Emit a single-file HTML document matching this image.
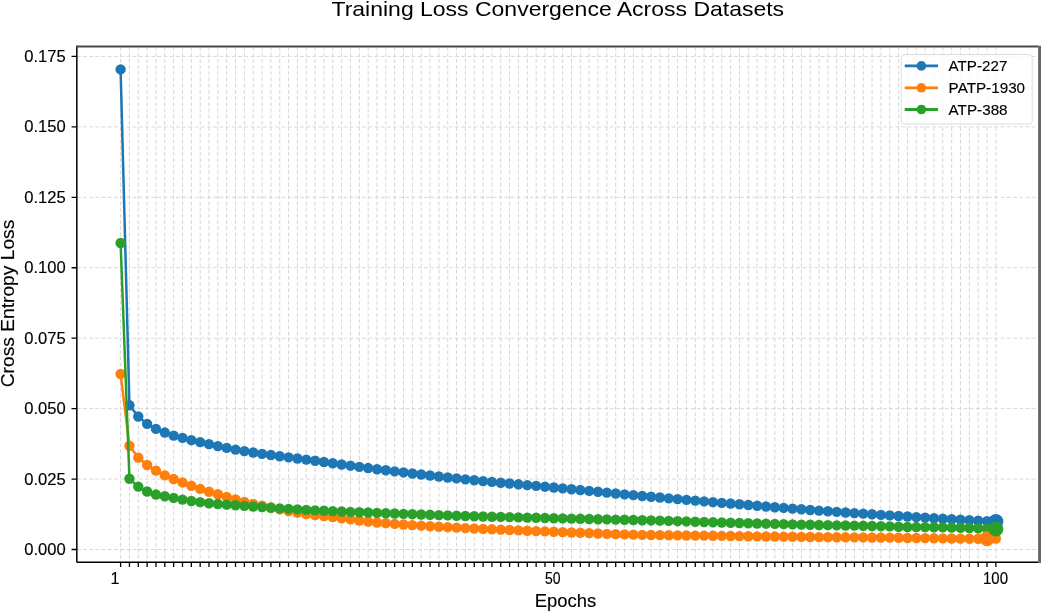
<!DOCTYPE html><html><head><meta charset="utf-8"><title>Training Loss Convergence</title><style>html,body{margin:0;padding:0;background:#fff;width:1041px;height:611px;overflow:hidden}svg{display:block}text{font-family:"Liberation Sans",sans-serif;fill:#000;stroke:#000;stroke-width:0.15px}</style></head><body>
<svg width="1041" height="611" viewBox="0 0 1041 611">
<defs><filter id="bl" x="0" y="0" width="1041" height="611" filterUnits="userSpaceOnUse"><feGaussianBlur stdDeviation="0.55"/></filter></defs><g filter="url(#bl)">
<rect x="0" y="0" width="1041" height="611" fill="#fff"/>
<path d="M120.60 46.5V562.3M129.44 46.5V562.3M138.28 46.5V562.3M147.12 46.5V562.3M155.96 46.5V562.3M164.81 46.5V562.3M173.65 46.5V562.3M182.49 46.5V562.3M191.33 46.5V562.3M200.17 46.5V562.3M209.01 46.5V562.3M217.85 46.5V562.3M226.69 46.5V562.3M235.53 46.5V562.3M244.37 46.5V562.3M253.21 46.5V562.3M262.06 46.5V562.3M270.90 46.5V562.3M279.74 46.5V562.3M288.58 46.5V562.3M297.42 46.5V562.3M306.26 46.5V562.3M315.10 46.5V562.3M323.94 46.5V562.3M332.78 46.5V562.3M341.62 46.5V562.3M350.47 46.5V562.3M359.31 46.5V562.3M368.15 46.5V562.3M376.99 46.5V562.3M385.83 46.5V562.3M394.67 46.5V562.3M403.51 46.5V562.3M412.35 46.5V562.3M421.19 46.5V562.3M430.03 46.5V562.3M438.88 46.5V562.3M447.72 46.5V562.3M456.56 46.5V562.3M465.40 46.5V562.3M474.24 46.5V562.3M483.08 46.5V562.3M491.92 46.5V562.3M500.76 46.5V562.3M509.60 46.5V562.3M518.44 46.5V562.3M527.29 46.5V562.3M536.13 46.5V562.3M544.97 46.5V562.3M553.81 46.5V562.3M562.65 46.5V562.3M571.49 46.5V562.3M580.33 46.5V562.3M589.17 46.5V562.3M598.01 46.5V562.3M606.85 46.5V562.3M615.70 46.5V562.3M624.54 46.5V562.3M633.38 46.5V562.3M642.22 46.5V562.3M651.06 46.5V562.3M659.90 46.5V562.3M668.74 46.5V562.3M677.58 46.5V562.3M686.42 46.5V562.3M695.26 46.5V562.3M704.11 46.5V562.3M712.95 46.5V562.3M721.79 46.5V562.3M730.63 46.5V562.3M739.47 46.5V562.3M748.31 46.5V562.3M757.15 46.5V562.3M765.99 46.5V562.3M774.83 46.5V562.3M783.67 46.5V562.3M792.52 46.5V562.3M801.36 46.5V562.3M810.20 46.5V562.3M819.04 46.5V562.3M827.88 46.5V562.3M836.72 46.5V562.3M845.56 46.5V562.3M854.40 46.5V562.3M863.24 46.5V562.3M872.08 46.5V562.3M880.93 46.5V562.3M889.77 46.5V562.3M898.61 46.5V562.3M907.45 46.5V562.3M916.29 46.5V562.3M925.13 46.5V562.3M933.97 46.5V562.3M942.81 46.5V562.3M951.65 46.5V562.3M960.50 46.5V562.3M969.34 46.5V562.3M978.18 46.5V562.3M987.02 46.5V562.3M995.86 46.5V562.3" stroke="#d0d0d0" stroke-width="0.9" stroke-dasharray="3.9 2.3" fill="none"/>
<path d="M76.84 549.50H1039.66M76.84 479.06H1039.66M76.84 408.62H1039.66M76.84 338.18H1039.66M76.84 267.74H1039.66M76.84 197.30H1039.66M76.84 126.86H1039.66M76.84 56.42H1039.66" stroke="#d4d4d4" stroke-width="0.9" stroke-dasharray="3.9 2.3" fill="none"/>
<polyline points="120.60,69.38 129.44,405.24 138.28,416.51 147.12,423.84 155.96,428.91 164.81,432.57 173.65,435.67 182.49,437.92 191.33,440.18 200.17,442.15 209.01,444.16 217.85,446.09 226.69,447.90 235.53,449.61 244.37,451.17 253.21,452.55 262.06,453.83 270.90,455.03 279.74,456.20 288.58,457.36 297.42,458.50 306.26,459.62 315.10,460.79 323.94,462.00 332.78,463.23 341.62,464.46 350.47,465.69 359.31,466.89 368.15,468.07 376.99,469.20 385.83,470.29 394.67,471.37 403.51,472.44 412.35,473.49 421.19,474.52 430.03,475.53 438.88,476.51 447.72,477.48 456.56,478.42 465.40,479.34 474.24,480.23 483.08,481.08 491.92,481.91 500.76,482.72 509.60,483.52 518.44,484.31 527.29,485.10 536.13,485.89 544.97,486.69 553.81,487.51 562.65,488.35 571.49,489.20 580.33,490.06 589.17,490.92 598.01,491.78 606.85,492.63 615.70,493.49 624.54,494.33 633.38,495.16 642.22,495.97 651.06,496.76 659.90,497.55 668.74,498.33 677.58,499.09 686.42,499.86 695.26,500.61 704.11,501.36 712.95,502.10 721.79,502.84 730.63,503.57 739.47,504.30 748.31,505.04 757.15,505.76 765.99,506.49 774.83,507.20 783.67,507.91 792.52,508.61 801.36,509.29 810.20,509.96 819.04,510.62 827.88,511.25 836.72,511.88 845.56,512.48 854.40,513.08 863.24,513.67 872.08,514.25 880.93,514.83 889.77,515.41 898.61,515.97 907.45,516.53 916.29,517.11 925.13,517.68 933.97,518.22 942.81,518.75 951.65,519.26 960.50,519.76 969.34,520.24 978.18,520.71 987.02,521.17 995.86,521.61" fill="none" stroke="#1f77b4" stroke-width="2.5" stroke-linejoin="round"/>
<g fill="#1f77b4"><circle cx="120.60" cy="69.38" r="5.2"/><circle cx="129.44" cy="405.24" r="5.2"/><circle cx="138.28" cy="416.51" r="5.2"/><circle cx="147.12" cy="423.84" r="5.2"/><circle cx="155.96" cy="428.91" r="5.2"/><circle cx="164.81" cy="432.57" r="5.2"/><circle cx="173.65" cy="435.67" r="5.2"/><circle cx="182.49" cy="437.92" r="5.2"/><circle cx="191.33" cy="440.18" r="5.2"/><circle cx="200.17" cy="442.15" r="5.2"/><circle cx="209.01" cy="444.16" r="5.2"/><circle cx="217.85" cy="446.09" r="5.2"/><circle cx="226.69" cy="447.90" r="5.2"/><circle cx="235.53" cy="449.61" r="5.2"/><circle cx="244.37" cy="451.17" r="5.2"/><circle cx="253.21" cy="452.55" r="5.2"/><circle cx="262.06" cy="453.83" r="5.2"/><circle cx="270.90" cy="455.03" r="5.2"/><circle cx="279.74" cy="456.20" r="5.2"/><circle cx="288.58" cy="457.36" r="5.2"/><circle cx="297.42" cy="458.50" r="5.2"/><circle cx="306.26" cy="459.62" r="5.2"/><circle cx="315.10" cy="460.79" r="5.2"/><circle cx="323.94" cy="462.00" r="5.2"/><circle cx="332.78" cy="463.23" r="5.2"/><circle cx="341.62" cy="464.46" r="5.2"/><circle cx="350.47" cy="465.69" r="5.2"/><circle cx="359.31" cy="466.89" r="5.2"/><circle cx="368.15" cy="468.07" r="5.2"/><circle cx="376.99" cy="469.20" r="5.2"/><circle cx="385.83" cy="470.29" r="5.2"/><circle cx="394.67" cy="471.37" r="5.2"/><circle cx="403.51" cy="472.44" r="5.2"/><circle cx="412.35" cy="473.49" r="5.2"/><circle cx="421.19" cy="474.52" r="5.2"/><circle cx="430.03" cy="475.53" r="5.2"/><circle cx="438.88" cy="476.51" r="5.2"/><circle cx="447.72" cy="477.48" r="5.2"/><circle cx="456.56" cy="478.42" r="5.2"/><circle cx="465.40" cy="479.34" r="5.2"/><circle cx="474.24" cy="480.23" r="5.2"/><circle cx="483.08" cy="481.08" r="5.2"/><circle cx="491.92" cy="481.91" r="5.2"/><circle cx="500.76" cy="482.72" r="5.2"/><circle cx="509.60" cy="483.52" r="5.2"/><circle cx="518.44" cy="484.31" r="5.2"/><circle cx="527.29" cy="485.10" r="5.2"/><circle cx="536.13" cy="485.89" r="5.2"/><circle cx="544.97" cy="486.69" r="5.2"/><circle cx="553.81" cy="487.51" r="5.2"/><circle cx="562.65" cy="488.35" r="5.2"/><circle cx="571.49" cy="489.20" r="5.2"/><circle cx="580.33" cy="490.06" r="5.2"/><circle cx="589.17" cy="490.92" r="5.2"/><circle cx="598.01" cy="491.78" r="5.2"/><circle cx="606.85" cy="492.63" r="5.2"/><circle cx="615.70" cy="493.49" r="5.2"/><circle cx="624.54" cy="494.33" r="5.2"/><circle cx="633.38" cy="495.16" r="5.2"/><circle cx="642.22" cy="495.97" r="5.2"/><circle cx="651.06" cy="496.76" r="5.2"/><circle cx="659.90" cy="497.55" r="5.2"/><circle cx="668.74" cy="498.33" r="5.2"/><circle cx="677.58" cy="499.09" r="5.2"/><circle cx="686.42" cy="499.86" r="5.2"/><circle cx="695.26" cy="500.61" r="5.2"/><circle cx="704.11" cy="501.36" r="5.2"/><circle cx="712.95" cy="502.10" r="5.2"/><circle cx="721.79" cy="502.84" r="5.2"/><circle cx="730.63" cy="503.57" r="5.2"/><circle cx="739.47" cy="504.30" r="5.2"/><circle cx="748.31" cy="505.04" r="5.2"/><circle cx="757.15" cy="505.76" r="5.2"/><circle cx="765.99" cy="506.49" r="5.2"/><circle cx="774.83" cy="507.20" r="5.2"/><circle cx="783.67" cy="507.91" r="5.2"/><circle cx="792.52" cy="508.61" r="5.2"/><circle cx="801.36" cy="509.29" r="5.2"/><circle cx="810.20" cy="509.96" r="5.2"/><circle cx="819.04" cy="510.62" r="5.2"/><circle cx="827.88" cy="511.25" r="5.2"/><circle cx="836.72" cy="511.88" r="5.2"/><circle cx="845.56" cy="512.48" r="5.2"/><circle cx="854.40" cy="513.08" r="5.2"/><circle cx="863.24" cy="513.67" r="5.2"/><circle cx="872.08" cy="514.25" r="5.2"/><circle cx="880.93" cy="514.83" r="5.2"/><circle cx="889.77" cy="515.41" r="5.2"/><circle cx="898.61" cy="515.97" r="5.2"/><circle cx="907.45" cy="516.53" r="5.2"/><circle cx="916.29" cy="517.11" r="5.2"/><circle cx="925.13" cy="517.68" r="5.2"/><circle cx="933.97" cy="518.22" r="5.2"/><circle cx="942.81" cy="518.75" r="5.2"/><circle cx="951.65" cy="519.26" r="5.2"/><circle cx="960.50" cy="519.76" r="5.2"/><circle cx="969.34" cy="520.24" r="5.2"/><circle cx="978.18" cy="520.71" r="5.2"/><circle cx="987.02" cy="521.17" r="5.2"/><circle cx="995.86" cy="521.61" r="5.2"/></g>
<polyline points="120.60,373.96 129.44,445.81 138.28,457.65 147.12,464.97 155.96,470.61 164.81,475.40 173.65,479.06 182.49,482.44 191.33,485.82 200.17,488.92 209.01,491.74 217.85,494.28 226.69,496.89 235.53,499.51 244.37,501.88 253.21,503.89 262.06,505.71 270.90,507.52 279.74,509.41 288.58,511.18 297.42,512.69 306.26,514.00 315.10,515.10 323.94,516.10 332.78,517.10 341.62,518.20 350.47,519.37 359.31,520.52 368.15,521.57 376.99,522.45 385.83,523.19 394.67,523.87 403.51,524.51 412.35,525.11 421.19,525.67 430.03,526.20 438.88,526.70 447.72,527.18 456.56,527.64 465.40,528.09 474.24,528.52 483.08,528.93 491.92,529.32 500.76,529.69 509.60,530.05 518.44,530.40 527.29,530.74 536.13,531.08 544.97,531.41 553.81,531.75 562.65,532.09 571.49,532.45 580.33,532.81 589.17,533.16 598.01,533.51 606.85,533.84 615.70,534.15 624.54,534.42 633.38,534.66 642.22,534.85 651.06,535.00 659.90,535.14 668.74,535.26 677.58,535.38 686.42,535.48 695.26,535.58 704.11,535.67 712.95,535.77 721.79,535.87 730.63,535.98 739.47,536.09 748.31,536.21 757.15,536.33 765.99,536.45 774.83,536.57 783.67,536.69 792.52,536.80 801.36,536.91 810.20,537.01 819.04,537.10 827.88,537.18 836.72,537.25 845.56,537.31 854.40,537.37 863.24,537.43 872.08,537.50 880.93,537.57 889.77,537.67 898.61,537.80 907.45,537.95 916.29,538.05 925.13,538.14 933.97,538.23 942.81,538.34 951.65,538.46 960.50,538.58 969.34,538.69 978.18,538.76 987.02,538.79 995.86,538.51" fill="none" stroke="#ff7f0e" stroke-width="2.5" stroke-linejoin="round"/>
<g fill="#ff7f0e"><circle cx="120.60" cy="373.96" r="5.2"/><circle cx="129.44" cy="445.81" r="5.2"/><circle cx="138.28" cy="457.65" r="5.2"/><circle cx="147.12" cy="464.97" r="5.2"/><circle cx="155.96" cy="470.61" r="5.2"/><circle cx="164.81" cy="475.40" r="5.2"/><circle cx="173.65" cy="479.06" r="5.2"/><circle cx="182.49" cy="482.44" r="5.2"/><circle cx="191.33" cy="485.82" r="5.2"/><circle cx="200.17" cy="488.92" r="5.2"/><circle cx="209.01" cy="491.74" r="5.2"/><circle cx="217.85" cy="494.28" r="5.2"/><circle cx="226.69" cy="496.89" r="5.2"/><circle cx="235.53" cy="499.51" r="5.2"/><circle cx="244.37" cy="501.88" r="5.2"/><circle cx="253.21" cy="503.89" r="5.2"/><circle cx="262.06" cy="505.71" r="5.2"/><circle cx="270.90" cy="507.52" r="5.2"/><circle cx="279.74" cy="509.41" r="5.2"/><circle cx="288.58" cy="511.18" r="5.2"/><circle cx="297.42" cy="512.69" r="5.2"/><circle cx="306.26" cy="514.00" r="5.2"/><circle cx="315.10" cy="515.10" r="5.2"/><circle cx="323.94" cy="516.10" r="5.2"/><circle cx="332.78" cy="517.10" r="5.2"/><circle cx="341.62" cy="518.20" r="5.2"/><circle cx="350.47" cy="519.37" r="5.2"/><circle cx="359.31" cy="520.52" r="5.2"/><circle cx="368.15" cy="521.57" r="5.2"/><circle cx="376.99" cy="522.45" r="5.2"/><circle cx="385.83" cy="523.19" r="5.2"/><circle cx="394.67" cy="523.87" r="5.2"/><circle cx="403.51" cy="524.51" r="5.2"/><circle cx="412.35" cy="525.11" r="5.2"/><circle cx="421.19" cy="525.67" r="5.2"/><circle cx="430.03" cy="526.20" r="5.2"/><circle cx="438.88" cy="526.70" r="5.2"/><circle cx="447.72" cy="527.18" r="5.2"/><circle cx="456.56" cy="527.64" r="5.2"/><circle cx="465.40" cy="528.09" r="5.2"/><circle cx="474.24" cy="528.52" r="5.2"/><circle cx="483.08" cy="528.93" r="5.2"/><circle cx="491.92" cy="529.32" r="5.2"/><circle cx="500.76" cy="529.69" r="5.2"/><circle cx="509.60" cy="530.05" r="5.2"/><circle cx="518.44" cy="530.40" r="5.2"/><circle cx="527.29" cy="530.74" r="5.2"/><circle cx="536.13" cy="531.08" r="5.2"/><circle cx="544.97" cy="531.41" r="5.2"/><circle cx="553.81" cy="531.75" r="5.2"/><circle cx="562.65" cy="532.09" r="5.2"/><circle cx="571.49" cy="532.45" r="5.2"/><circle cx="580.33" cy="532.81" r="5.2"/><circle cx="589.17" cy="533.16" r="5.2"/><circle cx="598.01" cy="533.51" r="5.2"/><circle cx="606.85" cy="533.84" r="5.2"/><circle cx="615.70" cy="534.15" r="5.2"/><circle cx="624.54" cy="534.42" r="5.2"/><circle cx="633.38" cy="534.66" r="5.2"/><circle cx="642.22" cy="534.85" r="5.2"/><circle cx="651.06" cy="535.00" r="5.2"/><circle cx="659.90" cy="535.14" r="5.2"/><circle cx="668.74" cy="535.26" r="5.2"/><circle cx="677.58" cy="535.38" r="5.2"/><circle cx="686.42" cy="535.48" r="5.2"/><circle cx="695.26" cy="535.58" r="5.2"/><circle cx="704.11" cy="535.67" r="5.2"/><circle cx="712.95" cy="535.77" r="5.2"/><circle cx="721.79" cy="535.87" r="5.2"/><circle cx="730.63" cy="535.98" r="5.2"/><circle cx="739.47" cy="536.09" r="5.2"/><circle cx="748.31" cy="536.21" r="5.2"/><circle cx="757.15" cy="536.33" r="5.2"/><circle cx="765.99" cy="536.45" r="5.2"/><circle cx="774.83" cy="536.57" r="5.2"/><circle cx="783.67" cy="536.69" r="5.2"/><circle cx="792.52" cy="536.80" r="5.2"/><circle cx="801.36" cy="536.91" r="5.2"/><circle cx="810.20" cy="537.01" r="5.2"/><circle cx="819.04" cy="537.10" r="5.2"/><circle cx="827.88" cy="537.18" r="5.2"/><circle cx="836.72" cy="537.25" r="5.2"/><circle cx="845.56" cy="537.31" r="5.2"/><circle cx="854.40" cy="537.37" r="5.2"/><circle cx="863.24" cy="537.43" r="5.2"/><circle cx="872.08" cy="537.50" r="5.2"/><circle cx="880.93" cy="537.57" r="5.2"/><circle cx="889.77" cy="537.67" r="5.2"/><circle cx="898.61" cy="537.80" r="5.2"/><circle cx="907.45" cy="537.95" r="5.2"/><circle cx="916.29" cy="538.05" r="5.2"/><circle cx="925.13" cy="538.14" r="5.2"/><circle cx="933.97" cy="538.23" r="5.2"/><circle cx="942.81" cy="538.34" r="5.2"/><circle cx="951.65" cy="538.46" r="5.2"/><circle cx="960.50" cy="538.58" r="5.2"/><circle cx="969.34" cy="538.69" r="5.2"/><circle cx="978.18" cy="538.76" r="5.2"/><circle cx="987.02" cy="538.79" r="5.2"/><circle cx="995.86" cy="538.51" r="5.2"/></g>
<polyline points="120.60,242.95 129.44,478.78 138.28,486.67 147.12,491.46 155.96,494.56 164.81,496.25 173.65,497.94 182.49,499.63 191.33,501.04 200.17,502.16 209.01,503.29 217.85,504.05 226.69,504.68 235.53,505.24 244.37,505.83 253.21,506.47 262.06,507.12 270.90,507.76 279.74,508.37 288.58,508.93 297.42,509.43 306.26,509.91 315.10,510.36 323.94,510.78 332.78,511.18 341.62,511.55 350.47,511.90 359.31,512.23 368.15,512.55 376.99,512.87 385.83,513.20 394.67,513.53 403.51,513.85 412.35,514.18 421.19,514.50 430.03,514.82 438.88,515.12 447.72,515.42 456.56,515.70 465.40,515.97 474.24,516.23 483.08,516.47 491.92,516.71 500.76,516.94 509.60,517.16 518.44,517.38 527.29,517.59 536.13,517.80 544.97,518.01 553.81,518.22 562.65,518.43 571.49,518.63 580.33,518.82 589.17,519.01 598.01,519.20 606.85,519.39 615.70,519.58 624.54,519.78 633.38,519.98 642.22,520.20 651.06,520.43 659.90,520.67 668.74,520.92 677.58,521.18 686.42,521.44 695.26,521.71 704.11,521.97 712.95,522.23 721.79,522.49 730.63,522.73 739.47,522.97 748.31,523.21 757.15,523.45 765.99,523.68 774.83,523.91 783.67,524.14 792.52,524.36 801.36,524.58 810.20,524.79 819.04,524.99 827.88,525.17 836.72,525.34 845.56,525.50 854.40,525.66 863.24,525.82 872.08,525.99 880.93,526.18 889.77,526.40 898.61,526.70 907.45,526.96 916.29,527.07 925.13,527.14 933.97,527.24 942.81,527.39 951.65,527.57 960.50,527.78 969.34,528.02 978.18,528.30 987.02,528.60 995.86,528.93" fill="none" stroke="#2ca02c" stroke-width="2.5" stroke-linejoin="round"/>
<g fill="#2ca02c"><circle cx="120.60" cy="242.95" r="5.2"/><circle cx="129.44" cy="478.78" r="5.2"/><circle cx="138.28" cy="486.67" r="5.2"/><circle cx="147.12" cy="491.46" r="5.2"/><circle cx="155.96" cy="494.56" r="5.2"/><circle cx="164.81" cy="496.25" r="5.2"/><circle cx="173.65" cy="497.94" r="5.2"/><circle cx="182.49" cy="499.63" r="5.2"/><circle cx="191.33" cy="501.04" r="5.2"/><circle cx="200.17" cy="502.16" r="5.2"/><circle cx="209.01" cy="503.29" r="5.2"/><circle cx="217.85" cy="504.05" r="5.2"/><circle cx="226.69" cy="504.68" r="5.2"/><circle cx="235.53" cy="505.24" r="5.2"/><circle cx="244.37" cy="505.83" r="5.2"/><circle cx="253.21" cy="506.47" r="5.2"/><circle cx="262.06" cy="507.12" r="5.2"/><circle cx="270.90" cy="507.76" r="5.2"/><circle cx="279.74" cy="508.37" r="5.2"/><circle cx="288.58" cy="508.93" r="5.2"/><circle cx="297.42" cy="509.43" r="5.2"/><circle cx="306.26" cy="509.91" r="5.2"/><circle cx="315.10" cy="510.36" r="5.2"/><circle cx="323.94" cy="510.78" r="5.2"/><circle cx="332.78" cy="511.18" r="5.2"/><circle cx="341.62" cy="511.55" r="5.2"/><circle cx="350.47" cy="511.90" r="5.2"/><circle cx="359.31" cy="512.23" r="5.2"/><circle cx="368.15" cy="512.55" r="5.2"/><circle cx="376.99" cy="512.87" r="5.2"/><circle cx="385.83" cy="513.20" r="5.2"/><circle cx="394.67" cy="513.53" r="5.2"/><circle cx="403.51" cy="513.85" r="5.2"/><circle cx="412.35" cy="514.18" r="5.2"/><circle cx="421.19" cy="514.50" r="5.2"/><circle cx="430.03" cy="514.82" r="5.2"/><circle cx="438.88" cy="515.12" r="5.2"/><circle cx="447.72" cy="515.42" r="5.2"/><circle cx="456.56" cy="515.70" r="5.2"/><circle cx="465.40" cy="515.97" r="5.2"/><circle cx="474.24" cy="516.23" r="5.2"/><circle cx="483.08" cy="516.47" r="5.2"/><circle cx="491.92" cy="516.71" r="5.2"/><circle cx="500.76" cy="516.94" r="5.2"/><circle cx="509.60" cy="517.16" r="5.2"/><circle cx="518.44" cy="517.38" r="5.2"/><circle cx="527.29" cy="517.59" r="5.2"/><circle cx="536.13" cy="517.80" r="5.2"/><circle cx="544.97" cy="518.01" r="5.2"/><circle cx="553.81" cy="518.22" r="5.2"/><circle cx="562.65" cy="518.43" r="5.2"/><circle cx="571.49" cy="518.63" r="5.2"/><circle cx="580.33" cy="518.82" r="5.2"/><circle cx="589.17" cy="519.01" r="5.2"/><circle cx="598.01" cy="519.20" r="5.2"/><circle cx="606.85" cy="519.39" r="5.2"/><circle cx="615.70" cy="519.58" r="5.2"/><circle cx="624.54" cy="519.78" r="5.2"/><circle cx="633.38" cy="519.98" r="5.2"/><circle cx="642.22" cy="520.20" r="5.2"/><circle cx="651.06" cy="520.43" r="5.2"/><circle cx="659.90" cy="520.67" r="5.2"/><circle cx="668.74" cy="520.92" r="5.2"/><circle cx="677.58" cy="521.18" r="5.2"/><circle cx="686.42" cy="521.44" r="5.2"/><circle cx="695.26" cy="521.71" r="5.2"/><circle cx="704.11" cy="521.97" r="5.2"/><circle cx="712.95" cy="522.23" r="5.2"/><circle cx="721.79" cy="522.49" r="5.2"/><circle cx="730.63" cy="522.73" r="5.2"/><circle cx="739.47" cy="522.97" r="5.2"/><circle cx="748.31" cy="523.21" r="5.2"/><circle cx="757.15" cy="523.45" r="5.2"/><circle cx="765.99" cy="523.68" r="5.2"/><circle cx="774.83" cy="523.91" r="5.2"/><circle cx="783.67" cy="524.14" r="5.2"/><circle cx="792.52" cy="524.36" r="5.2"/><circle cx="801.36" cy="524.58" r="5.2"/><circle cx="810.20" cy="524.79" r="5.2"/><circle cx="819.04" cy="524.99" r="5.2"/><circle cx="827.88" cy="525.17" r="5.2"/><circle cx="836.72" cy="525.34" r="5.2"/><circle cx="845.56" cy="525.50" r="5.2"/><circle cx="854.40" cy="525.66" r="5.2"/><circle cx="863.24" cy="525.82" r="5.2"/><circle cx="872.08" cy="525.99" r="5.2"/><circle cx="880.93" cy="526.18" r="5.2"/><circle cx="889.77" cy="526.40" r="5.2"/><circle cx="898.61" cy="526.70" r="5.2"/><circle cx="907.45" cy="526.96" r="5.2"/><circle cx="916.29" cy="527.07" r="5.2"/><circle cx="925.13" cy="527.14" r="5.2"/><circle cx="933.97" cy="527.24" r="5.2"/><circle cx="942.81" cy="527.39" r="5.2"/><circle cx="951.65" cy="527.57" r="5.2"/><circle cx="960.50" cy="527.78" r="5.2"/><circle cx="969.34" cy="528.02" r="5.2"/><circle cx="978.18" cy="528.30" r="5.2"/><circle cx="987.02" cy="528.60" r="5.2"/><circle cx="995.86" cy="528.93" r="5.2"/></g>
<circle cx="995.86" cy="521.61" r="7.5" fill="#1f77b4"/>
<circle cx="987.02" cy="538.79" r="7.5" fill="#ff7f0e"/>
<circle cx="995.86" cy="528.93" r="7.5" fill="#2ca02c"/>
<path d="M76.84 562.3V45.75" fill="none" stroke="#000" stroke-width="1.5"/><path d="M76.09 46.5H1038.5" fill="none" stroke="#4a4a4a" stroke-width="2"/><path d="M76.84 562.3H1038.5" fill="none" stroke="#000" stroke-width="1.5"/><path d="M1039.6 45.75V563.05" stroke="#666" stroke-width="3"/>
<path d="M71.54 549.50H76.84M71.54 479.06H76.84M71.54 408.62H76.84M71.54 338.18H76.84M71.54 267.74H76.84M71.54 197.30H76.84M71.54 126.86H76.84M71.54 56.42H76.84M120.60 562.3V566.90M129.44 562.3V566.90M138.28 562.3V566.90M147.12 562.3V566.90M155.96 562.3V566.90M164.81 562.3V566.90M173.65 562.3V566.90M182.49 562.3V566.90M191.33 562.3V566.90M200.17 562.3V566.90M209.01 562.3V566.90M217.85 562.3V566.90M226.69 562.3V566.90M235.53 562.3V566.90M244.37 562.3V566.90M253.21 562.3V566.90M262.06 562.3V566.90M270.90 562.3V566.90M279.74 562.3V566.90M288.58 562.3V566.90M297.42 562.3V566.90M306.26 562.3V566.90M315.10 562.3V566.90M323.94 562.3V566.90M332.78 562.3V566.90M341.62 562.3V566.90M350.47 562.3V566.90M359.31 562.3V566.90M368.15 562.3V566.90M376.99 562.3V566.90M385.83 562.3V566.90M394.67 562.3V566.90M403.51 562.3V566.90M412.35 562.3V566.90M421.19 562.3V566.90M430.03 562.3V566.90M438.88 562.3V566.90M447.72 562.3V566.90M456.56 562.3V566.90M465.40 562.3V566.90M474.24 562.3V566.90M483.08 562.3V566.90M491.92 562.3V566.90M500.76 562.3V566.90M509.60 562.3V566.90M518.44 562.3V566.90M527.29 562.3V566.90M536.13 562.3V566.90M544.97 562.3V566.90M553.81 562.3V566.90M562.65 562.3V566.90M571.49 562.3V566.90M580.33 562.3V566.90M589.17 562.3V566.90M598.01 562.3V566.90M606.85 562.3V566.90M615.70 562.3V566.90M624.54 562.3V566.90M633.38 562.3V566.90M642.22 562.3V566.90M651.06 562.3V566.90M659.90 562.3V566.90M668.74 562.3V566.90M677.58 562.3V566.90M686.42 562.3V566.90M695.26 562.3V566.90M704.11 562.3V566.90M712.95 562.3V566.90M721.79 562.3V566.90M730.63 562.3V566.90M739.47 562.3V566.90M748.31 562.3V566.90M757.15 562.3V566.90M765.99 562.3V566.90M774.83 562.3V566.90M783.67 562.3V566.90M792.52 562.3V566.90M801.36 562.3V566.90M810.20 562.3V566.90M819.04 562.3V566.90M827.88 562.3V566.90M836.72 562.3V566.90M845.56 562.3V566.90M854.40 562.3V566.90M863.24 562.3V566.90M872.08 562.3V566.90M880.93 562.3V566.90M889.77 562.3V566.90M898.61 562.3V566.90M907.45 562.3V566.90M916.29 562.3V566.90M925.13 562.3V566.90M933.97 562.3V566.90M942.81 562.3V566.90M951.65 562.3V566.90M960.50 562.3V566.90M969.34 562.3V566.90M978.18 562.3V566.90M987.02 562.3V566.90M995.86 562.3V566.90" stroke="#000" stroke-width="1.3" fill="none"/>
<text x="65.8" y="555.10" font-size="16" text-anchor="end" textLength="41.5" lengthAdjust="spacingAndGlyphs">0.000</text>
<text x="65.8" y="484.66" font-size="16" text-anchor="end" textLength="41.5" lengthAdjust="spacingAndGlyphs">0.025</text>
<text x="65.8" y="414.22" font-size="16" text-anchor="end" textLength="41.5" lengthAdjust="spacingAndGlyphs">0.050</text>
<text x="65.8" y="343.78" font-size="16" text-anchor="end" textLength="41.5" lengthAdjust="spacingAndGlyphs">0.075</text>
<text x="65.8" y="273.34" font-size="16" text-anchor="end" textLength="41.5" lengthAdjust="spacingAndGlyphs">0.100</text>
<text x="65.8" y="202.90" font-size="16" text-anchor="end" textLength="41.5" lengthAdjust="spacingAndGlyphs">0.125</text>
<text x="65.8" y="132.46" font-size="16" text-anchor="end" textLength="41.5" lengthAdjust="spacingAndGlyphs">0.150</text>
<text x="65.8" y="62.02" font-size="16" text-anchor="end" textLength="41.5" lengthAdjust="spacingAndGlyphs">0.175</text>
<text x="114.9" y="583.5" font-size="16.2" text-anchor="middle">1</text>
<text x="552.8" y="583.5" font-size="16.2" text-anchor="middle" textLength="15.5" lengthAdjust="spacingAndGlyphs">50</text>
<text x="995.5" y="583.5" font-size="16.2" text-anchor="middle" textLength="25" lengthAdjust="spacingAndGlyphs">100</text>
<text x="534.7" y="607" font-size="19" textLength="61.5" lengthAdjust="spacingAndGlyphs">Epochs</text>
<text transform="translate(14.1 387.3) rotate(-90)" x="0" y="0" font-size="19" textLength="167.6" lengthAdjust="spacingAndGlyphs">Cross Entropy Loss</text>
<text x="331.5" y="16.3" font-size="20.8" style="stroke:none" textLength="452.6" lengthAdjust="spacingAndGlyphs">Training Loss Convergence Across Datasets</text>
<rect x="901.2" y="54.5" width="131" height="69.5" rx="3" ry="3" fill="#fff" fill-opacity="0.8" stroke="#dedede" stroke-width="1"/>
<path d="M904.7 65.9H938" stroke="#1f77b4" stroke-width="2.8"/><circle cx="921.4" cy="65.9" r="4.8" fill="#1f77b4"/>
<text x="948.6" y="70.90" font-size="15.5" textLength="58.8" lengthAdjust="spacingAndGlyphs">ATP-227</text>
<path d="M904.7 87.8H938" stroke="#ff7f0e" stroke-width="2.8"/><circle cx="921.4" cy="87.8" r="4.8" fill="#ff7f0e"/>
<text x="948.6" y="92.80" font-size="15.5" textLength="76.5" lengthAdjust="spacingAndGlyphs">PATP-1930</text>
<path d="M904.7 109.5H938" stroke="#2ca02c" stroke-width="2.8"/><circle cx="921.4" cy="109.5" r="4.8" fill="#2ca02c"/>
<text x="948.6" y="114.50" font-size="15.5" textLength="59" lengthAdjust="spacingAndGlyphs">ATP-388</text>
</g></svg></body></html>
